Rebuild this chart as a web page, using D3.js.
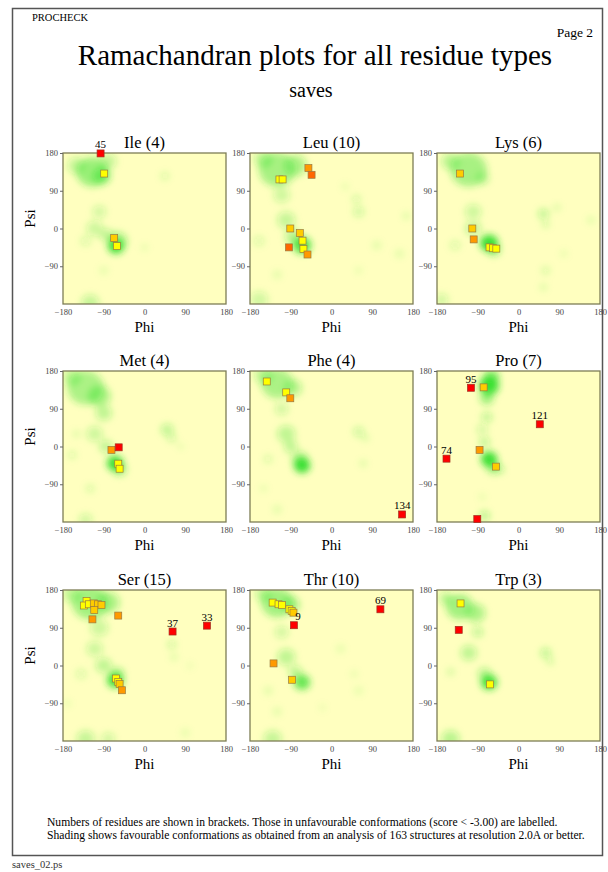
<!DOCTYPE html>
<html>
<head>
<meta charset="utf-8">
<script src="https://cdn.jsdelivr.net/npm/d3@7"></script>
<style>
  body { margin: 0; background: #fff; }
</style>
</head>
<body>
<div id="chart"></div>
<script>
// residue panels, row by row
const titles = ["Ile (4)", "Leu (10)", "Lys (6)", "Met (4)", "Phe (4)", "Pro (7)", "Ser (15)", "Thr (10)", "Trp (3)"];

// points: [phi, psi, score class 0..4, label]
const ilePts = [[-97, 179, 4, "45"], [-89, 131, 0], [-67, -23, 1], [-61, -42, 0]];
const leuPts = [[-51, 144, 2], [-44, 128, 3], [-115, 117, 0], [-108, 117, 0], [-91, 0, 1], [-70, -11, 1], [-64, -29, 0], [-62, -49, 0], [-94, -45, 3], [-53, -62, 2]];
const lysPts = [[-129, 131, 1], [-102, 0, 1], [-99, -26, 2], [-64, -45, 0], [-56, -47, 0], [-49, -48, 0]];
const metPts = [[-73, -8, 2], [-57, -2, 4], [-58, -41, 0], [-55, -53, 0]];
const phePts = [[-143, 155, 0], [-100, 129, 0], [-91, 115, 2], [156, -162, 4, "134"]];
const proPts = [[-105, 140, 4, "95"], [-77, 141, 1], [47, 53, 4, "121"], [-86, -8, 2], [-159, -29, 4, "74"], [-50, -48, 1], [-91, -173, 4]];
const serPts = [[-128, 154, 0], [-134, 143, 0], [-123, 146, 0], [-112, 148, 1], [-103, 146, 1], [-95, 144, 1], [-111, 132, 1], [-115, 110, 2], [-58, 119, 2], [62, 81, 4, "37"], [138, 95, 4, "33"], [-63, -31, 0], [-58, -39, 0], [-55, -44, 1], [-50, -59, 2]];
const thrPts = [[-130, 150, 0], [-117, 146, 0], [-109, 144, 0], [-93, 134, 0], [-88, 130, 0], [-84, 126, 1], [-83, 96, 4, "9"], [108, 134, 4, "69"], [-128, 5, 2], [-87, -34, 1]];
const trpPts = [[-128, 148, 0], [-132, 85, 4], [-63, -45, 0]];

// favourable shading: [phi, psi, radius (deg), strength]
const ileShade = [[-115, 135, 35, 0.45], [-95, 125, 20, 0.45], [-150, 150, 20, 0.25], [-80, 160, 18, 0.25], [-100, 40, 15, 0.2], [-110, 0, 18, 0.22], [-85, -15, 15, 0.25], [-63, -42, 18, 0.85], [-60, -30, 22, 0.35], [-130, -30, 12, 0.15], [45, 125, 10, 0.15], [0, -45, 8, 0.1], [-120, -178, 20, 0.25], [-90, -100, 10, 0.1]];
const leuShade = [[-120, 140, 40, 0.4], [-80, 150, 25, 0.35], [-150, 165, 20, 0.3], [-110, 80, 18, 0.22], [-100, 20, 20, 0.25], [-85, -20, 18, 0.3], [-65, -40, 20, 0.8], [-160, -30, 12, 0.15], [60, 40, 12, 0.22], [55, 70, 10, 0.18], [30, 100, 8, 0.1], [100, -40, 10, 0.12], [150, -60, 10, 0.12], [165, 30, 8, 0.15], [-160, -170, 20, 0.2], [-120, -110, 10, 0.12], [60, -100, 8, 0.1]];
const lysShade = [[-110, 140, 40, 0.4], [-150, 160, 20, 0.3], [-80, 120, 15, 0.25], [-100, 40, 18, 0.22], [-100, 0, 18, 0.25], [-65, -35, 20, 0.9], [-55, -50, 15, 0.45], [-140, -40, 12, 0.15], [55, 35, 12, 0.28], [60, 10, 8, 0.2], [85, 50, 8, 0.15], [160, 20, 8, 0.15], [60, -100, 10, 0.15], [55, -140, 8, 0.15], [-170, -170, 15, 0.2], [100, -60, 8, 0.1]];
const metShade = [[-130, 140, 40, 0.38], [-100, 120, 25, 0.35], [-160, 165, 20, 0.28], [-90, 80, 18, 0.28], [-110, 30, 18, 0.22], [-85, 0, 15, 0.28], [-65, -40, 18, 0.9], [-55, -55, 15, 0.4], [-120, -100, 10, 0.15], [-160, -20, 10, 0.15], [50, 40, 14, 0.28], [60, 20, 10, 0.2], [80, 0, 6, 0.15], [-130, -175, 15, 0.2], [-150, 30, 8, 0.15]];
const pheShade = [[-120, 150, 35, 0.38], [-85, 140, 20, 0.3], [-150, 170, 20, 0.28], [-110, 90, 15, 0.2], [-100, 30, 20, 0.28], [-90, 0, 15, 0.28], [-65, -45, 18, 0.9], [-70, -30, 18, 0.35], [-140, -30, 10, 0.15], [60, 35, 12, 0.22], [75, 20, 8, 0.15], [70, -40, 8, 0.15], [-120, -150, 10, 0.12], [-150, -100, 8, 0.1]];
const proShade = [[-65, 145, 22, 0.85], [-60, 165, 18, 0.55], [-70, 115, 15, 0.45], [-70, 70, 12, 0.28], [-80, 40, 12, 0.2], [-75, 10, 12, 0.28], [-65, -30, 18, 0.9], [-55, -50, 15, 0.45], [-40, -55, 10, 0.2], [-75, -165, 12, 0.3], [-80, -120, 8, 0.1]];
const serShade = [[-120, 150, 40, 0.42], [-80, 150, 25, 0.35], [-160, 170, 20, 0.28], [-100, 90, 20, 0.22], [-110, 40, 18, 0.22], [-90, 0, 18, 0.28], [-65, -35, 18, 0.85], [-60, -20, 15, 0.35], [-140, -20, 12, 0.15], [60, 50, 10, 0.2], [65, 20, 8, 0.15], [-130, -175, 20, 0.25], [-80, -175, 15, 0.2], [90, -160, 10, 0.1], [-170, -90, 8, 0.1], [100, 0, 8, 0.08]];
const thrShade = [[-120, 150, 35, 0.42], [-90, 145, 20, 0.35], [-150, 170, 18, 0.28], [-110, 80, 15, 0.2], [-100, 20, 20, 0.28], [-80, -15, 15, 0.28], [-65, -40, 18, 0.7], [-140, -60, 10, 0.12], [-120, -110, 10, 0.12], [-130, -175, 20, 0.25], [20, 40, 10, 0.1], [50, -20, 8, 0.1], [60, -60, 10, 0.1], [-20, -100, 8, 0.08]];
const trpShade = [[-130, 140, 30, 0.42], [-95, 125, 22, 0.35], [-160, 160, 15, 0.3], [-90, 80, 12, 0.28], [-110, 30, 18, 0.28], [-150, -15, 8, 0.2], [-75, -20, 15, 0.3], [-65, -40, 18, 0.85], [60, 30, 12, 0.28], [70, 10, 8, 0.2], [-150, -175, 20, 0.3]];

const phiTicks = [-180, -90, 0, 90, 180];
const psiTicks = [180, 90, 0, -90];

const allPts = [ilePts, leuPts, lysPts, metPts, phePts, proPts, serPts, thrPts, trpPts];
const allShade = [ileShade, leuShade, lysShade, metShade, pheShade, proShade, serShade, thrShade, trpShade];

const width = 608, height = 872;
const colX = [63, 250, 437];
const rowY = [153, 371, 590];
const pw = 163, ph = 151;
const classColor = ["#ffff00", "#ffcc00", "#ff9900", "#ff6600", "#ff0000"];
const serif = '"Liberation Serif", "Times New Roman", Times, "DejaVu Serif", serif';

const svg = d3.select('#chart')
    .append('svg')
    .attr('width', width)
    .attr('height', height)
    .attr('font-family', serif);

const defs = svg.append('defs');
defs.append('filter')
    .attr('id', 'soft')
    .attr('x', '-20%').attr('y', '-20%').attr('width', '140%').attr('height', '140%')
    .append('feGaussianBlur')
    .attr('stdDeviation', 3.8);

function label(sel, x, y, size, txt) {
    return sel.append('text')
        .attr('x', x).attr('y', y)
        .attr('font-family', serif)
        .attr('font-size', size)
        .text(txt);
}

// page frame and headings
svg.append('rect')
    .attr('x', 12.5).attr('y', 8.5)
    .attr('width', 590).attr('height', 847)
    .attr('fill', 'none')
    .attr('stroke', '#555')
    .attr('stroke-width', 1.5);

label(svg, 32, 21, 10.5, 'PROCHECK');
label(svg, 593, 37, 13.5, 'Page  2').attr('text-anchor', 'end');
label(svg, 315, 65, 29, 'Ramachandran plots for all residue types').attr('text-anchor', 'middle');
label(svg, 311, 97, 20, 'saves').attr('text-anchor', 'middle');

titles.forEach((title, i) => {
    const px = colX[i % 3];
    const py = rowY[Math.floor(i / 3)];

    const x = d3.scaleLinear().domain([-180, 180]).range([0, pw]);
    const y = d3.scaleLinear().domain([-180, 180]).range([ph, 0]);

    const g = svg.append('g').attr('transform', `translate(${px},${py})`);

    const clipId = `clip${i}`;
    defs.append('clipPath').attr('id', clipId)
        .append('rect').attr('width', pw).attr('height', ph);

    g.append('rect')
        .attr('width', pw).attr('height', ph)
        .attr('fill', '#ffffbf');

    // shading
    g.append('g')
        .attr('clip-path', `url(#${clipId})`)
        .append('g')
        .attr('filter', 'url(#soft)')
        .selectAll('ellipse')
        .data(allShade[i])
        .enter()
        .append('ellipse')
        .attr('cx', d => x(d[0]))
        .attr('cy', d => y(d[1]))
        .attr('rx', d => x(d[2]) - x(0))
        .attr('ry', d => y(0) - y(d[2]))
        .attr('fill', '#22dd22')
        .attr('fill-opacity', d => d[3]);

    g.append('rect')
        .attr('width', pw).attr('height', ph)
        .attr('fill', 'none')
        .attr('stroke', '#7d7d55')
        .attr('stroke-width', 1.3);

    // axes
    const ax = g.append('g')
        .attr('transform', `translate(0,${ph})`)
        .call(d3.axisBottom(x).tickValues(phiTicks).tickSize(0).tickPadding(5));
    const ay = g.append('g')
        .call(d3.axisLeft(y).tickValues(psiTicks).tickSize(3).tickPadding(2));
    [ax, ay].forEach(a => {
        a.attr('font-family', serif).attr('font-size', 8.5);
        a.select('.domain').remove();
        a.selectAll('text').attr('fill', '#444');
        a.selectAll('line').attr('stroke', '#666');
    });

    label(g, pw / 2, ph + 28, 15, 'Phi').attr('text-anchor', 'middle');

    if (i % 3 === 0) {
        g.append('text')
            .attr('transform', `translate(${-28},${ph / 2 - 10}) rotate(-90)`)
            .attr('text-anchor', 'middle')
            .attr('font-family', serif)
            .attr('font-size', 15)
            .text('Psi');
    }

    label(g, pw / 2, -5, 16.5, title).attr('text-anchor', 'middle');

    // residues
    const s = 7;
    g.selectAll('.res')
        .data(allPts[i])
        .enter()
        .append('rect')
        .attr('class', 'res')
        .attr('x', d => x(d[0]) - s / 2)
        .attr('y', d => y(d[1]) - s / 2)
        .attr('width', s).attr('height', s)
        .attr('fill', d => classColor[d[2]])
        .attr('stroke', d => d[2] === 4 ? '#a03020' : '#9a7a40')
        .attr('stroke-width', 0.7);

    g.selectAll('.lab')
        .data(allPts[i].filter(d => d[3]))
        .enter()
        .append('text')
        .attr('class', 'lab')
        .attr('x', d => x(d[0]) + (d[3] === '9' ? 4 : 0))
        .attr('y', d => y(d[1]) - 5)
        .attr('text-anchor', 'middle')
        .attr('font-family', serif)
        .attr('font-size', 11)
        .text(d => d[3]);
});

label(svg, 47, 826, 11.6, 'Numbers of residues are shown in brackets. Those in unfavourable conformations (score < -3.00) are labelled.');
label(svg, 47, 839, 11.6, 'Shading shows favourable conformations as obtained from an analysis of 163 structures at resolution 2.0A or better.');
label(svg, 12, 868, 10.5, 'saves_02.ps').attr('fill', '#333');
</script>
</body>
</html>
